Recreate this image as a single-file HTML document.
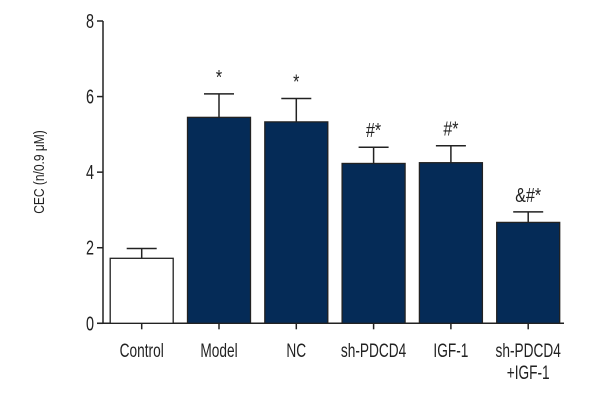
<!DOCTYPE html>
<html><head><meta charset="utf-8"><style>
body{margin:0;background:#fff;}
svg text{font-family:"Liberation Sans",sans-serif;fill:#222;}
</style></head><body>
<svg id="chart" width="600" height="400"></svg>
<script>
const categories=["Control","Model","NC","sh-PDCD4","IGF-1","sh-PDCD4|+IGF-1"];
const values=[1.72,5.45,5.33,4.23,4.25,2.67];
const errors=[0.26,0.62,0.62,0.43,0.45,0.28];
const annotations=["","*","*","#*","#*","&#*"];
const yTicks=[0,2,4,6,8];
const NS="http://www.w3.org/2000/svg";
const svg=document.getElementById('chart');
const x0=103,yBase=323.3,yTop=21,yMax=8,step=77.3,firstC=141.7,bw=63;
function y(v){return yBase-(yBase-yTop)*v/yMax;}
function xc(i){return firstC+i*step;}
function mk(t,a){const e=document.createElementNS(NS,t);for(const k in a)e.setAttribute(k,a[k]);svg.appendChild(e);return e;}
function txt(s,x,yy,size,anchor,sx){const t=mk('text',{x:x,y:yy,'font-size':size,'text-anchor':anchor||'middle',transform:`translate(${x},0) scale(${sx||0.72},1) translate(${-x},0)`});t.textContent=s;return t;}
let e;
e=mk('line',{x1:x0,y1:yTop,x2:x0,y2:yBase,stroke:'#222','stroke-width':1.5});

e=mk('line',{x1:x0-6,y1:yBase,x2:564,y2:yBase,stroke:'#222','stroke-width':1.5});

yTicks.forEach(v=>{
  e=mk('line',{x1:x0-6,y1:y(v),x2:x0,y2:y(v),stroke:'#222','stroke-width':1.5});
  
  e=txt(String(v),x0-9,y(v)+7,20,'end');
  
});
e=mk('text',{x:0,y:0,'font-size':15,'text-anchor':'middle',transform:'translate(44,172) rotate(-90) scale(0.8,1)'});
e.textContent='CEC (n/0.9 μM)';

categories.forEach((c,i)=>{
  const cx=xc(i),top=y(values[i]),et=y(values[i]+errors[i]);
  e=mk('line',{x1:cx,y1:et,x2:cx,y2:top,stroke:'#222','stroke-width':1.5});
  
  e=mk('line',{x1:cx-15,y1:et,x2:cx+15,y2:et,stroke:'#222','stroke-width':1.5});
  
  e=mk('rect',{x:cx-bw/2,y:top,width:bw,height:yBase-top,fill:i===0?'#fff':'#052b57',stroke:'#222','stroke-width':1.3});
  
  e=mk('line',{x1:cx,y1:yBase,x2:cx,y2:yBase+6,stroke:'#222','stroke-width':1.5});
  
  c.split('|').forEach((l,k)=>{
    e=txt(l,cx,357+k*22,19);
    
  });
  if(annotations[i]){
    e=txt(annotations[i],cx,et-10,20,'middle',0.8);
    
  }
});
</script>
</body></html>
